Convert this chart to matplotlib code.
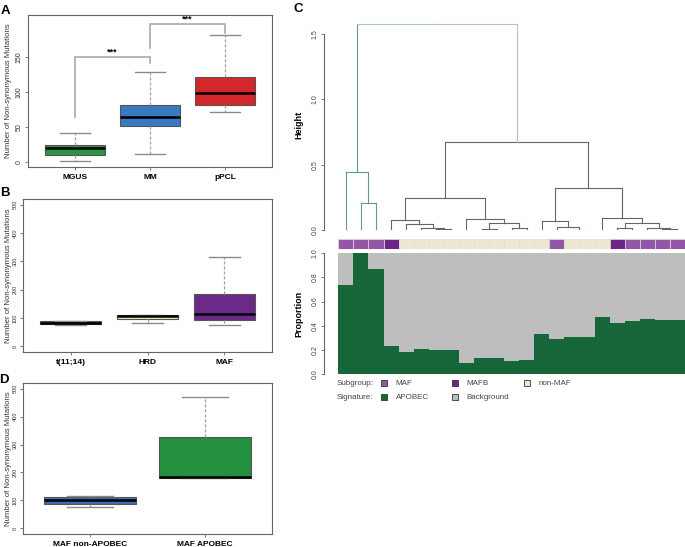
import matplotlib
matplotlib.use("Agg")
import matplotlib.pyplot as plt
from matplotlib.patches import Rectangle

plt.rcParams['font.family'] = ['Liberation Sans', 'DejaVu Sans']

W, H = 685, 547

# ---- panel A: mutations by disease stage
a_groups = ["MGUS", "MM", "pPCL"]
a_colors = ["#2a9440", "#3a78c0", "#d2282b"]
a_whislo = [1, 11, 71]
a_q1 = [10, 51, 82]
a_med = [20, 64, 99]
a_q3 = [25, 82, 122]
a_whishi = [41, 128, 182]
a_sig_pairs = [(1, 2), (2, 3)]
a_sig_top = [150, 197]
a_sig_legs = [(65, 141), (163, 185)]
a_sig_text = ["***", "***"]

# ---- panel B: mutations by subgroup
b_groups = ["t(11;14)", "HRD", "MAF"]
b_colors = ["#2d3d69", "#f7e8c3", "#6b2a8a"]
b_whislo = [77, 84, 74]
b_q1 = [79, 97, 94]
b_med = [84, 106, 113]
b_q3 = [88, 111, 184]
b_whishi = [90, 112, 315]

# ---- panel D: MAF split by APOBEC
d_groups = ["MAF non-APOBEC", "MAF APOBEC"]
d_colors = ["#3e6db4", "#22903f"]
d_whislo = [75, 180]
d_q1 = [86, 182]
d_med = [100, 185]
d_q3 = [114, 328]
d_whishi = [115, 471]

# ---- panel C: clustering of samples
leaf_subgroup = (["MAF"] * 3 + ["MAFB"] + ["non-MAF"] * 10 + ["MAF"]
                 + ["non-MAF"] * 3 + ["MAFB"] + ["MAF"] * 4)
apobec_prop = [0.74, 1.0, 0.87, 0.23, 0.18, 0.21, 0.20, 0.20, 0.09, 0.13,
               0.135, 0.105, 0.115, 0.33, 0.29, 0.305, 0.305, 0.475, 0.425,
               0.435, 0.455, 0.445, 0.45]
# merges: (child a, child b, height); ids >= 23 are earlier merges
merges = [
    (1, 2, 0.21), (0, 23, 0.446),
    (6, 7, 0.005), (5, 25, 0.018), (4, 26, 0.043), (3, 27, 0.077),
    (9, 10, 0.005), (11, 12, 0.018), (29, 30, 0.051), (8, 31, 0.082),
    (28, 32, 0.247),
    (15, 16, 0.003), (14, 34, 0.026), (13, 35, 0.071),
    (18, 19, 0.013), (21, 22, 0.005), (20, 38, 0.018), (37, 39, 0.051),
    (17, 40, 0.089), (36, 41, 0.319),
    (33, 42, 0.671), (24, 43, 1.575),
]
subgroup_colors = {"MAF": "#9456a6", "MAFB": "#6c2488", "non-MAF": "#efe7cd"}
signature_colors = {"APOBEC": "#17663a", "Background": "#bebebe"}

fig = plt.figure(figsize=(W / 100, H / 100), dpi=100)


def px_axes(left, top, right, bottom):
    return fig.add_axes([left / W, 1 - bottom / H, (right - left) / W, (bottom - top) / H])


def box_panel(ax, names, colors, lo, q1, med, q3, hi, ylim, yticks, ytick_size):
    stats = [dict(whislo=a, q1=b, med=c, q3=d, whishi=e, label=n)
             for n, a, b, c, d, e in zip(names, lo, q1, med, q3, hi)]
    pos = list(range(1, len(names) + 1))
    bp = ax.bxp(stats, positions=pos, widths=0.8, patch_artist=True, showfliers=False,
                boxprops=dict(edgecolor="#555555", linewidth=0.8),
                whiskerprops=dict(color="#a0a0a0", linestyle=(0, (2.5, 1.5)), linewidth=0.9),
                capprops=dict(color="#8a8a8a", linewidth=1.0),
                medianprops=dict(color="black", linewidth=1.8))
    for box, c in zip(bp['boxes'], colors):
        box.set_facecolor(c)
    n = len(names)
    ax.set_xlim(0.5 - 0.04 * n, n + 0.5 + 0.04 * n)
    ax.set_ylim(*ylim)
    ax.set_yticks(yticks)
    ax.set_xticks(pos, names, fontweight="bold", fontsize=6)
    ax.tick_params(axis="y", labelrotation=90, labelsize=ytick_size, length=2.2, width=0.6,
                   color="#666666", pad=1.5, labelcolor="#333333")
    ax.tick_params(axis="x", length=2.2, width=0.6, color="#666666", pad=2.5)
    for lab in ax.get_yticklabels():
        lab.set_va("center")
    for s in ax.spines.values():
        s.set_color("#666666")
        s.set_linewidth(0.8)
    left = ax.get_position().x0 * W
    width = ax.get_position().width * W
    ax.set_ylabel("Number of Non-synonymous Mutations", fontsize=5.6, color="#333333")
    ax.yaxis.set_label_coords(-(left - 12) / width, 0.5)


# panel A
axA = px_axes(28, 15, 272, 167)
box_panel(axA, a_groups, a_colors, a_whislo, a_q1, a_med, a_q3, a_whishi,
          (-7, 210), [0, 50, 100, 150], 5.0)
for (i, j), top, (l1, l2), txt in zip(a_sig_pairs, a_sig_top, a_sig_legs, a_sig_text):
    axA.plot([i, i, j, j], [l1, top, top, l2], color="#aaaaaa", lw=1.2, solid_joinstyle="miter")
    axA.text((i + j) / 2, top + 1, txt, ha="center", va="bottom", fontsize=6.5, fontweight="bold")

# panel B
axB = px_axes(23, 199, 272, 352)
box_panel(axB, b_groups, b_colors, b_whislo, b_q1, b_med, b_q3, b_whishi,
          (-20, 520), [0, 100, 200, 300, 400, 500], 4.0)

# panel D
axD = px_axes(23, 383, 272, 534)
box_panel(axD, d_groups, d_colors, d_whislo, d_q1, d_med, d_q3, d_whishi,
          (-20, 520), [0, 100, 200, 300, 400, 500], 4.0)

# panel C: dendrogram
n_leaves = len(leaf_subgroup)
node_x = [float(i) for i in range(n_leaves)]
node_h = [0.0] * n_leaves
green = set([0, 1, 2])
for a, b, h in merges:
    node_x.append((node_x[a] + node_x[b]) / 2)
    node_h.append(h)
    if a in green and b in green:
        green.add(len(node_x) - 1)
root = len(node_x) - 1

axT = px_axes(338.3, 20, 685, 230)
for k, (a, b, h) in enumerate(merges):
    node = n_leaves + k
    for c in (a, b):
        if c in green:
            col = "#5f9f78"
            hcol = "#a8cdb4" if node == root else col
        elif node == root:
            col = hcol = "#bdbdbd"
        else:
            col = hcol = "#666666"
        axT.plot([node_x[c], node_x[c]], [node_h[c], h], color=col, lw=0.8)
        axT.plot([node_x[c], node_x[node]], [h, h], color=hcol, lw=0.8)
axT.set_xlim(-0.5, n_leaves - 0.5)
axT.set_ylim(0, node_h[root] * 1.02)
axT.set_xticks([])
axT.set_yticks([0, 0.5, 1.0, 1.5], ["0.0", "0.5", "1.0", "1.5"])
for side in ("top", "right", "bottom"):
    axT.spines[side].set_visible(False)
axT.spines["left"].set_position(("outward", 10))
axT.spines["left"].set_bounds(0, 1.5)
axT.set_ylabel("Height", fontsize=6.5, fontweight="bold")

# subgroup colour strip
axS = px_axes(338.3, 238.7, 685, 249.3)
axS.bar(range(n_leaves), [1] * n_leaves, width=1,
        color=[subgroup_colors[s] for s in leaf_subgroup], edgecolor="#dddddd", linewidth=0.5)
axS.set_xlim(-0.5, n_leaves - 0.5)
axS.set_ylim(0, 1)
axS.axis("off")

# signature proportions
axP = px_axes(338.3, 253.3, 685, 374)
idx = range(n_leaves)
axP.bar(idx, apobec_prop, width=1, color=signature_colors["APOBEC"], linewidth=0)
axP.bar(idx, [1 - p for p in apobec_prop], bottom=apobec_prop, width=1,
        color=signature_colors["Background"], linewidth=0)
axP.set_xlim(-0.5, n_leaves - 0.5)
axP.set_ylim(0, 1)
axP.set_xticks([])
axP.set_yticks([0, 0.2, 0.4, 0.6, 0.8, 1.0])
for side in ("top", "right", "bottom"):
    axP.spines[side].set_visible(False)
axP.spines["left"].set_position(("outward", 10))
axP.set_ylabel("Proportion", fontsize=6.5, fontweight="bold")

for ax in (axT, axP):
    ax.spines["left"].set_color("#666666")
    ax.spines["left"].set_linewidth(0.8)
    ax.tick_params(axis="y", labelrotation=90, labelsize=5, length=2.5, width=0.6,
                   color="#666666", labelcolor="#444444", pad=1.5)
    for lab in ax.get_yticklabels():
        lab.set_va("center")
    ax.yaxis.set_label_coords(-(338.3 - 303) / (685 - 338.3), 0.5)

# overlay for panel letters and legend
ov = fig.add_axes([0, 0, 1, 1])
ov.set_xlim(0, W)
ov.set_ylim(H, 0)
ov.axis("off")
for letter, x, y in [("A", 5, 11), ("B", 5, 193), ("C", 298, 9), ("D", 4, 380)]:
    ov.text(x, y, letter, fontsize=9.5, fontweight="bold", ha="center", va="center")

legend_rows = [("Subgroup:", list(subgroup_colors.items()), 383.3),
               ("Signature:", list(signature_colors.items()), 397.3)]
sq_x = [384.3, 455.3, 526.7]
for title, items, y in legend_rows:
    ov.text(336.7, y, title, fontsize=5.8, color="#444444", ha="left", va="center")
    for (name, col), x in zip(items, sq_x):
        ov.add_patch(Rectangle((x - 3, y - 3), 6, 6, facecolor=col, edgecolor="#333333", lw=0.6))
        ov.text(x + 11.5, y, name, fontsize=5.8, color="#444444", ha="left", va="center")

fig.savefig("out.png", dpi=100)
